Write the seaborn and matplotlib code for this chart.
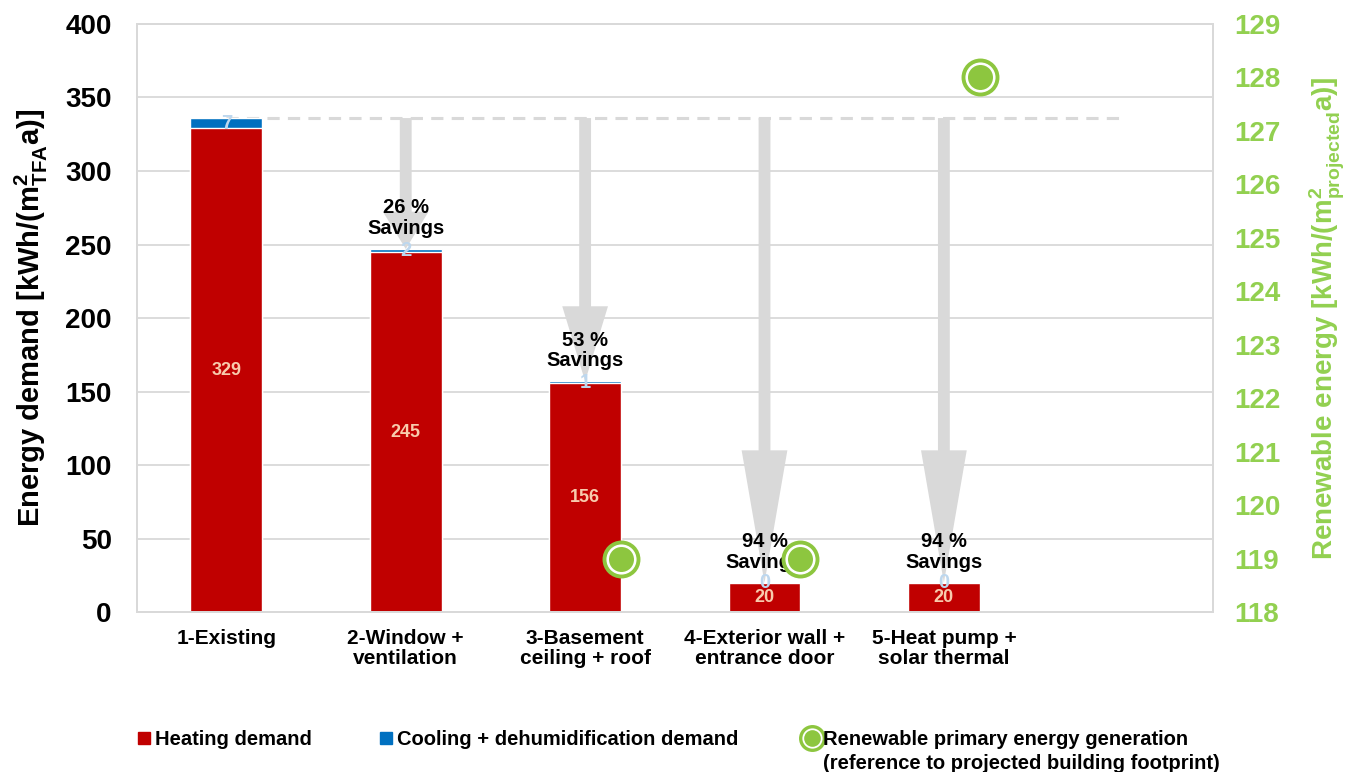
import numpy as np
import pandas as pd
import matplotlib
matplotlib.use("Agg")
import matplotlib.pyplot as plt
import seaborn as sns
from matplotlib.lines import Line2D

# Renovation stages and their demand values [kWh/(m²_TFA a)]
stages = ["1-Existing", "2-Window +\nventilation", "3-Basement\nceiling + roof",
          "4-Exterior wall +\nentrance door", "5-Heat pump +\nsolar thermal"]
heating = [329, 245, 156, 20, 20]
cooling = [7, 2, 1, 0, 0]
# Renewable primary energy generation [kWh/(m²_projected a)]
renewable = [np.nan, np.nan, 119, 119, 128]

RED = "#C00000"
BLUE = "#0070C0"
GREEN = "#8DC63F"
AXGREEN = "#92D050"
GREY = "#D9D9D9"

sns.set_theme(style="white")
plt.rcParams["font.family"] = ["Liberation Sans", "DejaVu Sans"]
plt.rcParams["font.weight"] = "bold"
plt.rcParams["text.color"] = "black"
plt.rcParams["axes.labelcolor"] = "black"
plt.rcParams["xtick.color"] = "black"
plt.rcParams["ytick.color"] = "black"
plt.rcParams["mathtext.fontset"] = "custom"
plt.rcParams["mathtext.rm"] = "Liberation Sans:bold"
plt.rcParams["mathtext.bf"] = "Liberation Sans:bold"
plt.rcParams["mathtext.it"] = "Liberation Sans:bold"
plt.rcParams["mathtext.default"] = "bf"

df = pd.DataFrame({"stage": stages, "heating": heating, "cooling": cooling})
df["total"] = df["heating"] + df["cooling"]

fig, ax = plt.subplots(figsize=(13.53, 7.72), dpi=100)
fig.subplots_adjust(left=0.101, right=0.8965, top=0.969, bottom=0.207)

ax.set_axisbelow(True)
ax.yaxis.grid(True, color=GREY, lw=1.3)

# stacked bars: total (cooling on top) then heating over it
sns.barplot(data=df, x="stage", y="total", color=BLUE, width=0.4,
            saturation=1, ax=ax, zorder=2)
sns.barplot(data=df, x="stage", y="heating", color=RED, width=0.4,
            saturation=1, ax=ax, zorder=2)

ax.set_xlim(-0.5, 5.5)
ax.set_ylim(0, 400)
ax.set_yticks(range(0, 401, 50))
ax.tick_params(axis="y", labelsize=20, pad=18, length=0)
ax.tick_params(axis="x", labelsize=15, pad=12, length=0)
for lbl in ax.get_xticklabels():
    lbl.set_linespacing(1.1)
ax.set_xlabel("")
ax.set_ylabel("Energy demand [kWh/(m$^{2}_{TFA}$a)]", fontsize=21,
              fontweight="bold", labelpad=11)
for s in ax.spines.values():
    s.set_color(GREY)
    s.set_linewidth(1.3)

totals = df["total"].tolist()
base = totals[0]

# reference level of the existing building
ax.hlines(base, 0, 5, colors=GREY, linestyles=(0, (4, 2.7)), lw=2.2, zorder=1)

# savings arrows and labels
for i in range(1, len(stages)):
    drop = base - totals[i]
    ax.arrow(i, base, 0, -drop, width=0.066, head_width=0.255,
             head_length=0.285 * drop, length_includes_head=True,
             color=GREY, lw=0, zorder=3)
    pct = round((1 - totals[i] / base) * 100)
    ax.annotate(f"{pct} %\nSavings", (i, totals[i]), xytext=(0, 8),
                textcoords="offset points", ha="center", va="bottom",
                fontsize=14.5, fontweight="bold", color="black",
                linespacing=1.1, zorder=5)

# value labels
for i, (h, c) in enumerate(zip(heating, cooling)):
    ax.text(i, h / 2, str(h), ha="center", va="center", fontsize=13,
            color="#F8CBAD", fontweight="bold", zorder=4)
    ax.text(i, h + c / 2, str(c), ha="center", va="center", fontsize=14.5,
            color="#BDD7EE", fontweight="bold", zorder=4)

# secondary axis: renewable generation
ax2 = ax.twinx()
ax2.set_ylim(118, 129)
ax2.set_yticks(range(118, 130))
ax2.tick_params(axis="y", labelsize=20, colors=AXGREEN, pad=15, length=0)
for s in ax2.spines.values():
    s.set_color(GREY)
    s.set_linewidth(1.3)
xpos = np.arange(len(stages)) + 0.2
sns.scatterplot(x=xpos, y=renewable, ax=ax2, s=600, marker="o",
                facecolor="white", edgecolor=GREEN, linewidth=2.8, zorder=6)
sns.scatterplot(x=xpos, y=renewable, ax=ax2, s=324, marker="o",
                color=GREEN, linewidth=0, zorder=7)
ax2.set_ylabel("Renewable energy [kWh/(m$^{2}_{projected}$a)]", fontsize=20,
               fontweight="bold", color=AXGREEN, rotation=90, labelpad=20)

# legend
h_heat = Line2D([], [], marker="s", ls="", ms=8, color=RED)
h_cool = Line2D([], [], marker="s", ls="", ms=8, color=BLUE)
h_ren = (Line2D([], [], marker="o", ls="", ms=17, mfc="white", mec=GREEN, mew=2.4),
         Line2D([], [], marker="o", ls="", ms=12, mfc=GREEN, mec=GREEN, mew=0))
leg = fig.legend([h_heat, h_cool, h_ren],
                 ["Heating demand", "Cooling + dehumidification demand",
                  "Renewable primary energy generation"],
                 loc="upper left", bbox_to_anchor=(0.088, 0.078), ncol=3,
                 frameon=False, prop={"weight": "bold", "size": 14.5},
                 handlelength=0.7, handletextpad=0.2, columnspacing=3.3)

# second line of the renewable legend entry, aligned under its first line
fig.canvas.draw()
ren_txt = leg.get_texts()[2]
bb = ren_txt.get_window_extent().transformed(fig.transFigure.inverted())
fig.text(bb.x0, bb.y0 - 0.006, "(reference to projected building footprint)",
         ha="left", va="top", fontsize=14.5, fontweight="bold", color="black")

fig.savefig("out.png", dpi=100)
